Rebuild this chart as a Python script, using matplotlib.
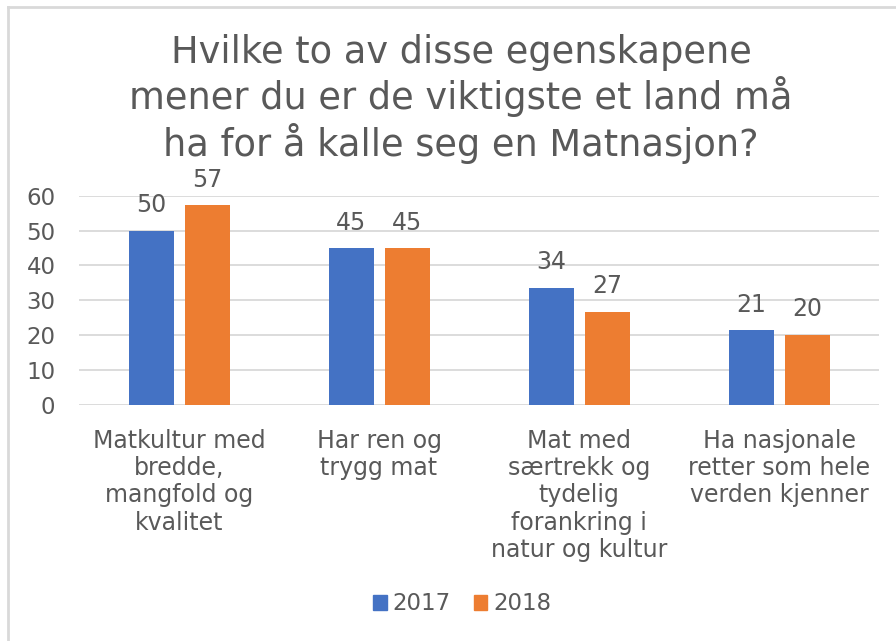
import matplotlib
matplotlib.use("Agg")
import matplotlib.pyplot as plt
import numpy as np
from matplotlib.lines import Line2D
from matplotlib.patches import Patch

plt.rcParams['font.family'] = ['DejaVu Sans']

categories = ["Matkultur med\nbredde,\nmangfold og\nkvalitet",
              "Har ren og\ntrygg mat",
              "Mat med\nsærtrekk og\ntydelig\nforankring i\nnatur og kultur",
              "Ha nasjonale\nretter som hele\nverden kjenner"]
series_names = ["2017", "2018"]
values_2017 = [49.9, 44.9, 33.5, 21.4]
values_2018 = [57.2, 44.9, 26.7, 20.0]
yticks = [0, 10, 20, 30, 40, 50, 60]
title = "Hvilke to av disse egenskapene\nmener du er de viktigste et land må\nha for å kalle seg en Matnasjon?"

blue = "#4472C4"
orange = "#ED7D31"
grey_text = "#595959"

W, H = 896, 641
fig = plt.figure(figsize=(W/100, H/100), dpi=100)
ax = fig.add_axes([79/W, 1-405/H, 800/W, (405-195.7)/H])

x = np.arange(len(categories))
bw = 0.225
off = 0.14
b1 = ax.bar(x - off, values_2017, bw, color=blue, label=series_names[0], zorder=3)
b2 = ax.bar(x + off, values_2018, bw, color=orange, label=series_names[1], zorder=3)
for bars in (b1, b2):
    for r in bars:
        ax.text(r.get_x() + r.get_width()/2, r.get_height() + 7.4, f"{r.get_height():.0f}",
                ha="center", va="center", fontsize=17, color=grey_text)

ax.set_xlim(-0.5, len(categories) - 0.5)
ax.set_ylim(0, 60)
ax.set_yticks(yticks)
ax.set_yticklabels([str(t) for t in yticks], fontsize=16.5, color=grey_text)
ax.set_xticks(x)
ax.set_xticklabels(categories, fontsize=17, color=grey_text, linespacing=1.18, va="top")
ax.tick_params(axis="y", length=0, pad=17)
ax.tick_params(axis="x", length=0, pad=17)
ax.grid(axis="y", color="#D9D9D9", linewidth=1.3, zorder=0)
for s in ax.spines.values():
    s.set_visible(False)

fig.text(461/W, 1-34/H, title, ha="center", va="top", fontsize=26.5, color=grey_text, linespacing=1.16)

handles = [Patch(color=blue, label="2017"), Patch(color=orange, label="2018")]
fig.legend(handles=handles, loc="center", bbox_to_anchor=(462/W, 1-604/H), ncol=2, frameon=False,
           fontsize=16.5, labelcolor=grey_text, handlelength=0.6, handleheight=0.6,
           handletextpad=0.25, columnspacing=1.0)

# chart border (top and left visible)
fig.add_artist(Line2D([8/W, 1], [1-7/H, 1-7/H], color="#D9D9D9", linewidth=2, transform=fig.transFigure))
fig.add_artist(Line2D([8/W, 8/W], [0, 1-7/H], color="#D9D9D9", linewidth=2, transform=fig.transFigure))

fig.savefig("out.png", dpi=100, facecolor="white")
